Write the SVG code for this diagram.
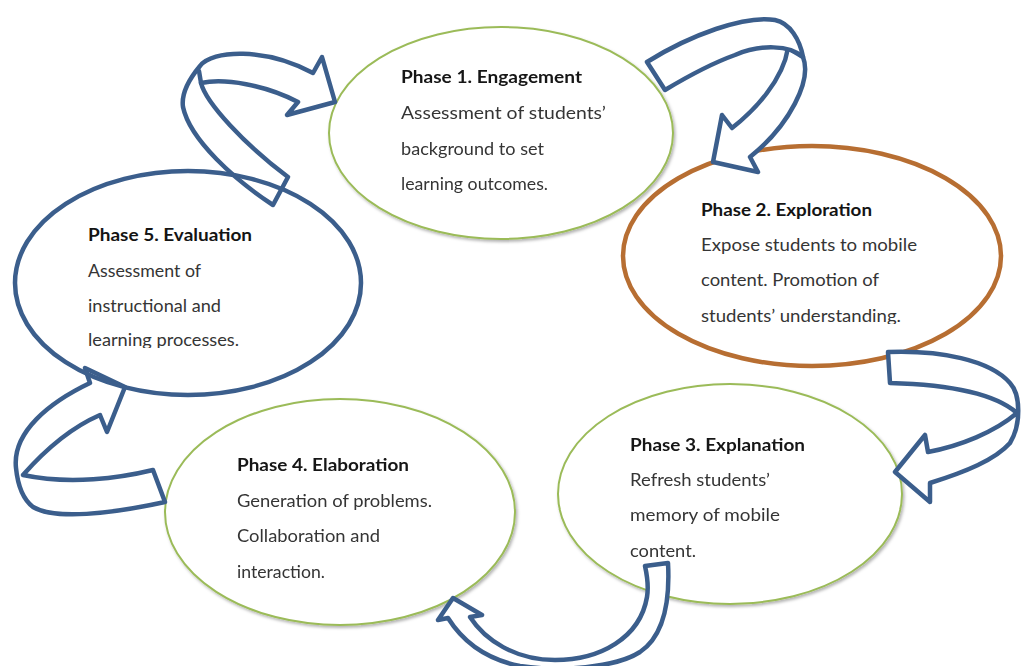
<svg xmlns="http://www.w3.org/2000/svg" width="1021" height="666" viewBox="0 0 1021 666">
  <defs>
    <style>
      .ring { fill: #ffffff; }
      .ring-green { stroke: #9bbb59; stroke-width: 2; }
      .ring-orange { stroke: #b76e32; stroke-width: 4.5; }
      .ring-blue { fill: none; stroke: #3b5e8c; stroke-width: 4.5; }
      .title { font-family: Lato, "Liberation Sans", sans-serif; font-weight: 700; font-size: 16.5px; fill: #141414; }
      .body { font-family: Lato, "Liberation Sans", sans-serif; font-weight: 400; font-size: 16.5px; fill: #353535; }
      .arrow { fill: #ffffff; stroke: #3b5e8c; stroke-width: 4.5; stroke-linejoin: round; }
      .fold { fill: none; stroke: #3b5e8c; stroke-width: 4.5; stroke-linecap: round; }
    </style>
    <filter id="lift" x="-10%" y="-10%" width="120%" height="125%">
      <feDropShadow dx="1.5" dy="2" stdDeviation="1.4" flood-color="#000000" flood-opacity="0.3"/>
    </filter>
    <clipPath id="cut-p2">
      <rect x="690" y="290" width="240" height="34"/>
    </clipPath>
    <clipPath id="cut-p5">
      <rect x="80" y="320" width="180" height="28"/>
    </clipPath>
  </defs>

  <rect width="1021" height="666" fill="#ffffff"/>

  <!-- Phase 1 -->
  <g id="phase1" filter="url(#lift)">
    <ellipse class="ring ring-green" cx="501" cy="133" rx="172" ry="106"/>
    <text class="title" x="401" y="83" textLength="181" lengthAdjust="spacingAndGlyphs">Phase 1. Engagement</text>
    <text class="body" x="401" y="119" textLength="205" lengthAdjust="spacingAndGlyphs">Assessment of students’</text>
    <text class="body" x="401" y="155" textLength="143" lengthAdjust="spacingAndGlyphs">background to set</text>
    <text class="body" x="401" y="190" textLength="147" lengthAdjust="spacingAndGlyphs">learning outcomes.</text>
  </g>

  <!-- Phase 2 -->
  <g id="phase2">
    <ellipse class="ring ring-orange" cx="812" cy="256" rx="189" ry="110"/>
    <text class="title" x="701" y="216" textLength="171" lengthAdjust="spacingAndGlyphs">Phase 2. Exploration</text>
    <text class="body" x="701" y="251" textLength="216" lengthAdjust="spacingAndGlyphs">Expose students to mobile</text>
    <text class="body" x="701" y="286" textLength="178" lengthAdjust="spacingAndGlyphs">content. Promotion of</text>
    <text class="body" x="701" y="322" textLength="200" lengthAdjust="spacingAndGlyphs" clip-path="url(#cut-p2)">students’ understanding.</text>
  </g>

  <!-- Phase 3 -->
  <g id="phase3" filter="url(#lift)">
    <ellipse class="ring ring-green" cx="730" cy="494" rx="172" ry="110"/>
    <text class="title" x="630" y="451" textLength="175" lengthAdjust="spacingAndGlyphs">Phase 3. Explanation</text>
    <text class="body" x="630" y="486" textLength="140" lengthAdjust="spacingAndGlyphs">Refresh students’</text>
    <text class="body" x="630" y="521" textLength="150" lengthAdjust="spacingAndGlyphs">memory of mobile</text>
    <text class="body" x="630" y="557" textLength="66" lengthAdjust="spacingAndGlyphs">content.</text>
  </g>

  <!-- Phase 4 -->
  <g id="phase4" filter="url(#lift)">
    <ellipse class="ring ring-green" cx="340" cy="512" rx="175" ry="113"/>
    <text class="title" x="237" y="471" textLength="172" lengthAdjust="spacingAndGlyphs">Phase 4. Elaboration</text>
    <text class="body" x="237" y="507" textLength="195" lengthAdjust="spacingAndGlyphs">Generation of problems.</text>
    <text class="body" x="237" y="542" textLength="143" lengthAdjust="spacingAndGlyphs">Collaboration and</text>
    <text class="body" x="237" y="578" textLength="88" lengthAdjust="spacingAndGlyphs">interaction.</text>
  </g>

  <!-- Curved ribbon arrows between the phases -->
  <g id="connectors">
    <!-- Evaluation to Engagement -->
    <g id="arrow-5-1">
      <path class="arrow" d="M 288,177 L 273,205 C 235,180 190,140 183,107 C 181,93 190,78 200,66 C 212,50 265,47 313,73 L 322,57 L 335,102 L 287,115 L 298,102 C 265,85 225,78 201,83 C 206,103 245,145 288,177 Z"/>
      <path class="fold" d="M 201,83 L 199,71"/>
    </g>
    <!-- Engagement to Exploration -->
    <g id="arrow-1-2">
      <path class="arrow" d="M 803,57 C 812,80 790,125 750,157 L 758,172 L 713,162 L 722,115 L 732,128 C 755,110 783,80 788,48 Z"/>
      <path class="arrow" d="M 647,62 C 690,35 745,15 775,20 C 790,23 800,40 803,57 C 790,45 760,44 735,55 C 710,64 685,78 665,90 Z"/>
    </g>
    <!-- Exploration to Explanation -->
    <g id="arrow-2-3">
      <path class="arrow" d="M 888,352 C 940,350 990,360 1010,383 C 1021,395 1021,425 1010,443 C 995,460 965,472 930,483 L 930,502 L 895,472 L 925,435 L 928,452 C 960,446 995,432 1017,413 C 1000,398 965,385 890,383 Z"/>
    </g>
    <!-- Explanation to Elaboration -->
    <g id="arrow-3-4">
      <path class="arrow" d="M 645,566 L 668,563 C 670,600 665,635 640,652 C 615,668 560,672 520,666 C 490,660 465,645 448,618 L 438,620 L 453,598 L 482,615 L 470,617 C 485,640 515,660 555,660 C 600,660 640,638 647,597 C 649,585 647,575 645,566 Z"/>
    </g>
    <!-- Elaboration to Evaluation -->
    <g id="arrow-4-5">
      <path class="arrow" d="M 153,470 C 120,478 70,485 23,475 C 45,450 70,428 100,415 L 107,432 L 125,387 L 85,368 L 90,383 C 50,402 12,432 16,468 C 18,488 24,500 33,507 C 55,520 110,514 165,502 Z"/>
    </g>
  </g>

  <!-- Phase 5 -->
  <g id="phase5">
    <ellipse class="ring-blue" cx="188" cy="283" rx="173" ry="112"/>
    <text class="title" x="88" y="241" textLength="164" lengthAdjust="spacingAndGlyphs">Phase 5. Evaluation</text>
    <text class="body" x="88" y="277" textLength="113" lengthAdjust="spacingAndGlyphs">Assessment of</text>
    <text class="body" x="88" y="312" textLength="133" lengthAdjust="spacingAndGlyphs">instructional and</text>
    <text class="body" x="88" y="346" textLength="151" lengthAdjust="spacingAndGlyphs" clip-path="url(#cut-p5)">learning processes.</text>
  </g>
</svg>
